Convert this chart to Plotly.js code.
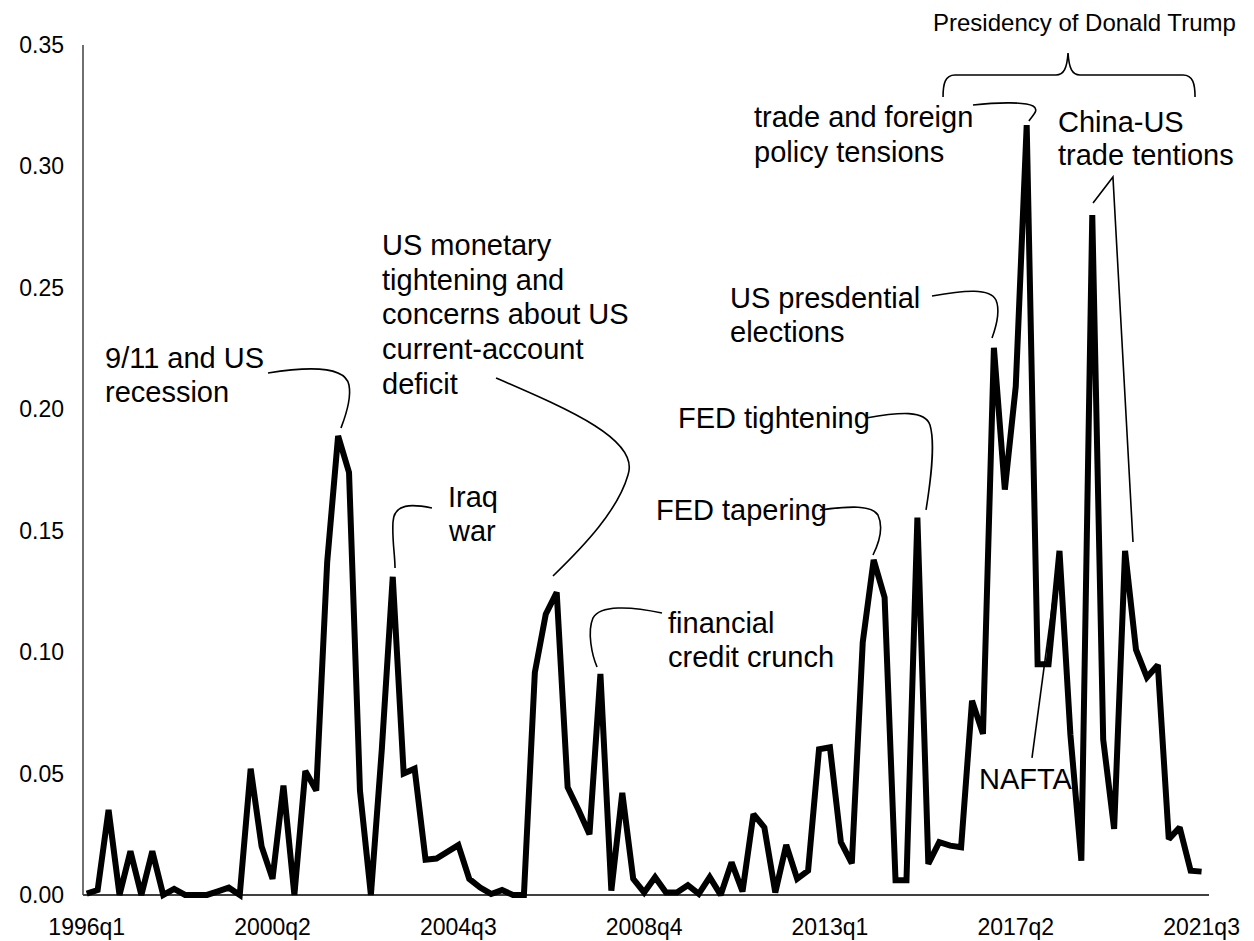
<!DOCTYPE html>
<html>
<head>
<meta charset="utf-8">
<script src="https://cdn.plot.ly/plotly-3.0.1.min.js"></script>
<style>
  html, body { margin: 0; padding: 0; background: #fff; }
  #chart { width: 1254px; height: 941px; }
</style>
</head>
<body>
<div id="chart"></div>
<script>
// quarterly index, 1996q1 .. 2021q3
const startYear = 1996;
const values = [
  0.0005, 0.002, 0.035, 0.000, 0.018, 0.000, 0.018, 0.000, 0.0025, 0.000,
  0.000, 0.000, 0.0015, 0.003, 0.000, 0.052, 0.020, 0.0066, 0.045, 0.000,
  0.051, 0.043, 0.137, 0.189, 0.174, 0.043, 0.000, 0.060, 0.131, 0.050,
  0.052, 0.0145, 0.015, 0.018, 0.0205, 0.0066, 0.003, 0.0004, 0.002, 0.000,
  0.000, 0.0916, 0.1156, 0.1246, 0.0443, 0.035, 0.025, 0.091, 0.0018, 0.042,
  0.0066, 0.001, 0.0073, 0.001, 0.001, 0.004, 0.0004, 0.0073, 0.000, 0.0134,
  0.0014, 0.0333, 0.0278, 0.001, 0.0206, 0.0066, 0.010, 0.060, 0.0608, 0.0217,
  0.013, 0.104, 0.138, 0.1225, 0.006, 0.006, 0.1554, 0.0128, 0.0217, 0.0203,
  0.0196, 0.080, 0.0663, 0.2253, 0.1669, 0.2094, 0.317, 0.095, 0.095, 0.1417,
  0.066, 0.0141, 0.280, 0.064, 0.0272, 0.1417, 0.101, 0.0896, 0.0947, 0.023,
  0.0278, 0.010, 0.0096
];
const tickLabels = ['1996q1', '2000q2', '2004q3', '2008q4', '2013q1', '2017q2', '2021q3'];
const yTicks = [0, 0.05, 0.10, 0.15, 0.20, 0.25, 0.30, 0.35];

const quarters = values.map((_, i) => (startYear + Math.floor(i / 4)) + 'q' + (i % 4 + 1));
const xIdx = values.map((_, i) => i);
const tickIdx = tickLabels.map(t => quarters.indexOf(t));

// annotation text, one entry per line: [text, left px, middle px]
const notes = [
  ['9/11 and US', 103, 358], ['recession', 103, 392],
  ['Iraq', 446, 497], ['war', 446, 531],
  ['US monetary', 380, 245], ['tightening and', 380, 280], ['concerns about US', 380, 314],
  ['current-account', 380, 349], ['deficit', 380, 384],
  ['financial', 666, 623], ['credit crunch', 666, 657],
  ['FED tapering', 654, 510],
  ['FED tightening', 676, 418],
  ['US presdential', 728, 298], ['elections', 728, 332],
  ['trade and foreign', 752, 117], ['policy tensions', 752, 152],
  ['China-US', 1056, 122], ['trade tentions', 1056, 155],
  ['NAFTA', 977, 779]
];

// plot box in page pixels
const L = 83, R = 45, T = 45, B = 40, W = 1254, H = 941;
const px = x => (x - L) / (W - L - R);
const py = y => (H - B - y) / (H - T - B);
const pt = (x, y) => px(x).toFixed(4) + ',' + py(y).toFixed(4);
const path = cmds => cmds.map(c => c[0] + ' ' + c.slice(1).map(p => pt(p[0], p[1])).join(' ')).join(' ');

const leaders = [
  [['M', [268, 373]], ['C', [305, 367], [345, 365], [349, 385]], ['C', [352, 400], [344, 420], [341, 428]]],
  [['M', [432, 508]], ['C', [412, 504], [394, 503], [393, 522]], ['C', [392, 540], [395, 555], [395, 568]]],
  [['M', [496, 378]], ['C', [570, 410], [640, 440], [628, 475]], ['C', [618, 510], [585, 545], [553, 576]]],
  [['M', [662, 613]], ['C', [630, 606], [600, 605], [593, 618]], ['C', [587, 632], [592, 655], [597, 667]]],
  [['M', [820, 510]], ['C', [850, 506], [872, 505], [878, 515]], ['C', [884, 528], [878, 545], [873, 555]]],
  [['M', [866, 418]], ['C', [900, 412], [925, 410], [930, 425]], ['C', [936, 445], [930, 485], [926, 510]]],
  [['M', [932, 296]], ['C', [965, 290], [990, 288], [996, 300]], ['C', [1001, 312], [995, 330], [992, 338]]],
  [['M', [973, 105]], ['C', [1000, 102], [1025, 102], [1033, 106]], ['C', [1040, 110], [1032, 116], [1029, 121]]],
  [['M', [1093, 203]], ['L', [1113, 177]], ['L', [1133, 542]]],
  [['M', [1032, 758]], ['L', [1058, 563]]],
  // brace over the Trump years
  [['M', [943, 97]], ['C', [943, 84], [945, 75], [955, 75]], ['L', [1056, 75]],
   ['C', [1064, 75], [1067, 68], [1068, 53]], ['C', [1069, 68], [1072, 75], [1080, 75]],
   ['L', [1183, 75]], ['C', [1193, 75], [1195, 84], [1195, 97]]]
];

const font = 'Liberation Sans, Arial, sans-serif';

const trace = {
  x: xIdx,
  y: values,
  text: quarters,
  type: 'scatter',
  mode: 'lines',
  line: { color: '#000000', width: 6 },
  hovertemplate: '%{text}: %{y:.3f}<extra></extra>'
};

const annotations = notes.map(n => ({
  text: n[0], xref: 'paper', yref: 'paper', x: px(n[1]), y: py(n[2]),
  xanchor: 'left', yanchor: 'middle', showarrow: false,
  font: { family: font, size: 29, color: '#000000' }
}));
annotations.push({
  text: 'Presidency of Donald Trump', xref: 'paper', yref: 'paper',
  x: px(1084), y: py(22), xanchor: 'center', yanchor: 'middle', showarrow: false,
  font: { family: font, size: 24, color: '#000000' }
});

const shapes = leaders.map(l => ({
  type: 'path', xref: 'paper', yref: 'paper', path: path(l),
  line: { color: '#000000', width: 1.6 }
}));
shapes.push({
  type: 'line', xref: 'paper', yref: 'y', x0: 0, x1: 0, y0: 0, y1: 0.35,
  line: { color: '#404040', width: 1.5 }, layer: 'below'
});

const layout = {
  width: W,
  height: H,
  margin: { l: L, r: R, t: T, b: B },
  paper_bgcolor: '#ffffff',
  plot_bgcolor: '#ffffff',
  showlegend: false,
  font: { family: font, color: '#000000' },
  xaxis: {
    range: [-0.34, 102.68],
    tickvals: tickIdx,
    ticktext: tickLabels,
    showgrid: false,
    zeroline: false,
    showline: false,
    ticks: '',
    ticklabelstandoff: 10,
    tickfont: { family: font, size: 23, color: '#000000' }
  },
  yaxis: {
    range: [-0.0025, 0.35],
    tickvals: yTicks,
    tickformat: '.2f',
    showgrid: false,
    zeroline: true,
    zerolinecolor: '#404040',
    zerolinewidth: 1.5,
    showline: false,
    ticks: '',
    ticklabelstandoff: 18,
    tickfont: { family: font, size: 23, color: '#000000' }
  },
  annotations: annotations,
  shapes: shapes
};

Plotly.newPlot('chart', [trace], layout, { displayModeBar: false, staticPlot: true });
</script>
</body>
</html>
